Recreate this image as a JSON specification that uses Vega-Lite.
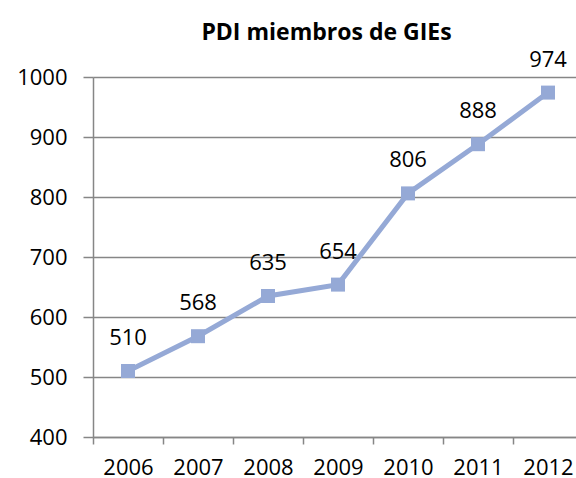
{
  "$schema": "https://vega.github.io/schema/vega-lite/v6.json",
  "autosize": {"type": "none"},
  "padding": {"left": 93, "top": 77, "right": 0, "bottom": 41},
  "width": 483,
  "height": 360,
  "background": "white",
  "title": {
    "text": "PDI miembros de GIEs",
    "font": "Open Sans",
    "fontSize": 23,
    "fontWeight": "bold",
    "color": "#000000",
    "anchor": "middle",
    "frame": "group",
    "dx": -8
  },
  "data": {
    "values": [
      {"year": "2006", "value": 510},
      {"year": "2007", "value": 568},
      {"year": "2008", "value": 635},
      {"year": "2009", "value": 654},
      {"year": "2010", "value": 806},
      {"year": "2011", "value": 888},
      {"year": "2012", "value": 974}
    ]
  },
  "encoding": {
    "x": {
      "field": "year",
      "type": "ordinal",
      "scale": {"type": "band", "range": [0, 490], "paddingInner": 0, "paddingOuter": 0},
      "axis": {
        "title": null,
        "labelAngle": 0,
        "tickBand": "extent",
        "tickSize": 7,
        "tickColor": "#868686",
        "tickWidth": 1.5,
        "domainColor": "#868686",
        "domainWidth": 1.5,
        "labelFont": "Open Sans",
        "labelFontSize": 22,
        "labelColor": "#000000",
        "labelBaseline": "alphabetic",
        "labelPadding": 30,
        "grid": false
      }
    },
    "y": {
      "field": "value",
      "type": "quantitative",
      "scale": {"domain": [400, 1000], "nice": false, "zero": false},
      "axis": {
        "title": null,
        "values": [400, 500, 600, 700, 800, 900, 1000],
        "format": "d",
        "tickSize": 10,
        "tickColor": "#868686",
        "tickWidth": 1.5,
        "domainColor": "#868686",
        "domainWidth": 1.5,
        "grid": true,
        "gridColor": "#868686",
        "gridWidth": 1.5,
        "labelFont": "Open Sans",
        "labelFontSize": 22,
        "labelColor": "#000000",
        "labelPadding": 16,
        "labelBaseline": "middle"
      }
    }
  },
  "layer": [
    {
      "mark": {"type": "line", "color": "#95a9d6", "strokeWidth": 5}
    },
    {
      "mark": {"type": "point", "shape": "square", "filled": true, "size": 196, "color": "#95a9d6", "opacity": 1}
    },
    {
      "mark": {"type": "text", "font": "Open Sans", "fontSize": 22, "color": "#000000", "baseline": "alphabetic", "dy": -26},
      "encoding": {"text": {"field": "value", "type": "quantitative", "format": "d"}}
    }
  ]
}
